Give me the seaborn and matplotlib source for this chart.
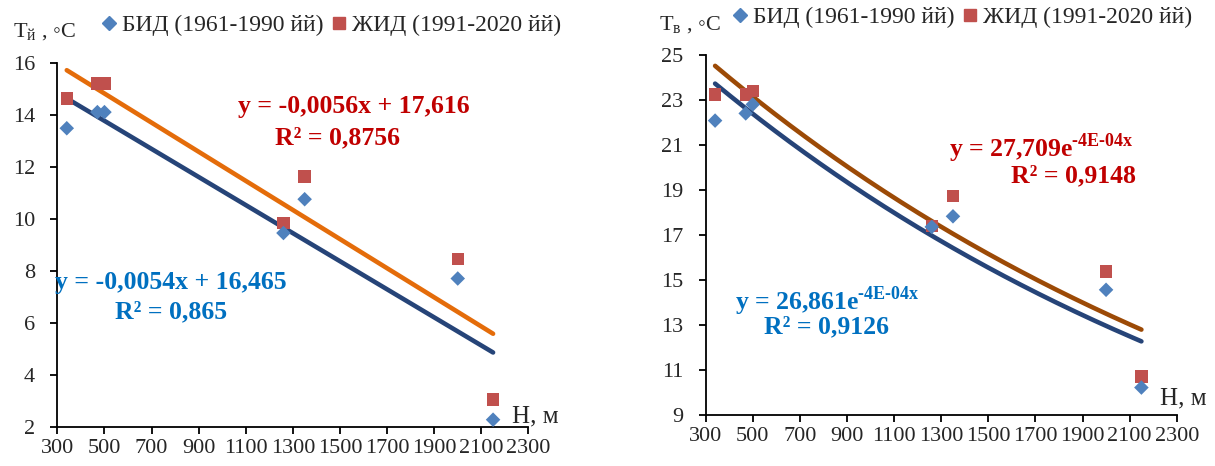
import numpy as np
import pandas as pd
import matplotlib
matplotlib.use("Agg")
import matplotlib.pyplot as plt
from matplotlib.lines import Line2D
import seaborn as sns

# Station altitudes, m
altitude = [340, 470, 500, 1260, 1350, 2000, 2150]

# Mean temperatures for the two climate normals
t_winter_bid = [13.48, 14.1, 14.1, 9.45, 10.75, 7.7, 2.27]
t_winter_jid = [14.63, 15.2, 15.2, 9.83, 11.62, 8.45, 3.05]
t_summer_bid = [22.08, 22.4, 22.8, 17.35, 17.82, 14.55, 10.2]
t_summer_jid = [23.25, 23.25, 23.4, 17.4, 18.72, 15.37, 10.69]

# Trendline coefficients
lin_bid = (-0.0054, 16.465)
lin_jid = (-0.0056, 17.616)
exp_bid = (26.861, -3.65e-4)
exp_jid = (27.709, -3.6e-4)

series_labels = ["БИД (1961-1990 йй)", "ЖИД (1991-2020 йй)"]
x_ticks = list(range(300, 2301, 200))

sns.set_theme(style="white")
plt.rcParams["font.family"] = ["Liberation Serif", "DejaVu Serif", "DejaVu Sans"]
plt.rcParams["mathtext.fontset"] = "custom"
plt.rcParams["mathtext.rm"] = "Liberation Serif"
plt.rcParams["mathtext.bf"] = "Liberation Serif:bold"

C_DIAMOND = "#4F81BD"
C_SQUARE = "#C0504D"
C_NAVY = "#264478"
C_ORANGE = "#E46C0A"
C_BROWN = "#9C4A06"
C_RED_TXT = "#C00000"
C_BLUE_TXT = "#0070C0"

EQ_FS = 18.5

fig = plt.figure(figsize=(12.15, 4.66), dpi=100)
ax1 = fig.add_axes([0.0472, 0.0843, 0.3877, 0.7811])
ax2 = fig.add_axes([0.5808, 0.1105, 0.3877, 0.7715])

xs = np.linspace(min(altitude), max(altitude), 200)


def draw_panel(ax, bid, jid, line_bid, line_jid, c_jid_line):
    df = pd.DataFrame({"H": altitude, "bid": bid, "jid": jid})
    lines = pd.DataFrame({"H": xs, "bid": line_bid, "jid": line_jid})
    sns.lineplot(data=lines, x="H", y="bid", ax=ax, color=C_NAVY, lw=3.3)
    sns.lineplot(data=lines, x="H", y="jid", ax=ax, color=c_jid_line, lw=3.3)
    sns.scatterplot(data=df, x="H", y="bid", ax=ax, marker="D", s=55,
                    color=C_DIAMOND, edgecolor="none", zorder=4)
    sns.scatterplot(data=df, x="H", y="jid", ax=ax, marker="s", s=80,
                    color=C_SQUARE, edgecolor="none", zorder=3)
    ax.set_xlim(300, 2300)
    ax.set_xticks(x_ticks)
    ax.set_xlabel("")
    ax.set_ylabel("")
    for s in ["top", "right"]:
        ax.spines[s].set_visible(False)
    for s in ["left", "bottom"]:
        ax.spines[s].set_color("black")
        ax.spines[s].set_linewidth(1.3)
    ax.tick_params(axis="both", which="both", direction="out", length=5,
                   width=1.3, color="black", labelsize=16, bottom=True, left=True)
    ax.tick_params(axis="x", pad=4)
    ax.tick_params(axis="y", pad=11)


draw_panel(ax1, t_winter_bid, t_winter_jid,
           lin_bid[0] * xs + lin_bid[1], lin_jid[0] * xs + lin_jid[1], C_ORANGE)
ax1.set_ylim(2, 16)
ax1.set_yticks(range(2, 17, 2))

draw_panel(ax2, t_summer_bid, t_summer_jid,
           exp_bid[0] * np.exp(exp_bid[1] * xs), exp_jid[0] * np.exp(exp_jid[1] * xs), C_BROWN)
ax2.set_ylim(9, 25)
ax2.set_yticks(range(9, 26, 2))

# Legends above each panel
handles = [Line2D([], [], marker="D", ls="none", color=C_DIAMOND, ms=7),
           Line2D([], [], marker="s", ls="none", color=C_SQUARE, ms=8.5)]
for x0, y0 in [(0.0860, 0.946), (0.6055, 0.962)]:
    fig.legend(handles, series_labels, loc="center left", bbox_to_anchor=(x0, y0),
               ncol=2, frameon=False, fontsize=17, handlelength=0.4,
               handletextpad=0.35, columnspacing=0.45, borderaxespad=0, borderpad=0)

# Axis titles
fig.text(0.011, 0.930, "T$_\\mathregular{й}$ , ◦C", fontsize=16, va="center")
fig.text(0.542, 0.945, "T$_\\mathregular{в}$ , ◦C", fontsize=16, va="center")
fig.text(0.4214, 0.107, "Н, м", fontsize=18, va="center")
fig.text(0.9547, 0.146, "Н, м", fontsize=18, va="center")

# Trendline equations
ax1.text(1560, 14.30, "y = -0,0056x + 17,616", color=C_RED_TXT, fontsize=EQ_FS,
         fontweight="bold", ha="center", va="center")
ax1.text(1490, 13.1, "R² = 0,8756", color=C_RED_TXT, fontsize=EQ_FS,
         fontweight="bold", ha="center", va="center")
ax1.text(783, 7.53, "y = -0,0054x + 16,465", color=C_BLUE_TXT, fontsize=EQ_FS,
         fontweight="bold", ha="center", va="center")
ax1.text(783, 6.41, "R² = 0,865", color=C_BLUE_TXT, fontsize=EQ_FS,
         fontweight="bold", ha="center", va="center")

ax2.text(1725, 20.87, "y = 27,709e$^{\\mathbf{‐4E‐04x}}$", color=C_RED_TXT, fontsize=EQ_FS,
         fontweight="bold", ha="center", va="center")
ax2.text(1860, 19.62, "R² = 0,9148", color=C_RED_TXT, fontsize=EQ_FS,
         fontweight="bold", ha="center", va="center")
ax2.text(815, 14.05, "y = 26,861e$^{\\mathbf{‐4E‐04x}}$", color=C_BLUE_TXT, fontsize=EQ_FS,
         fontweight="bold", ha="center", va="center")
ax2.text(815, 12.9, "R² = 0,9126", color=C_BLUE_TXT, fontsize=EQ_FS,
         fontweight="bold", ha="center", va="center")

fig.savefig("out.png", dpi=100, facecolor="white")
